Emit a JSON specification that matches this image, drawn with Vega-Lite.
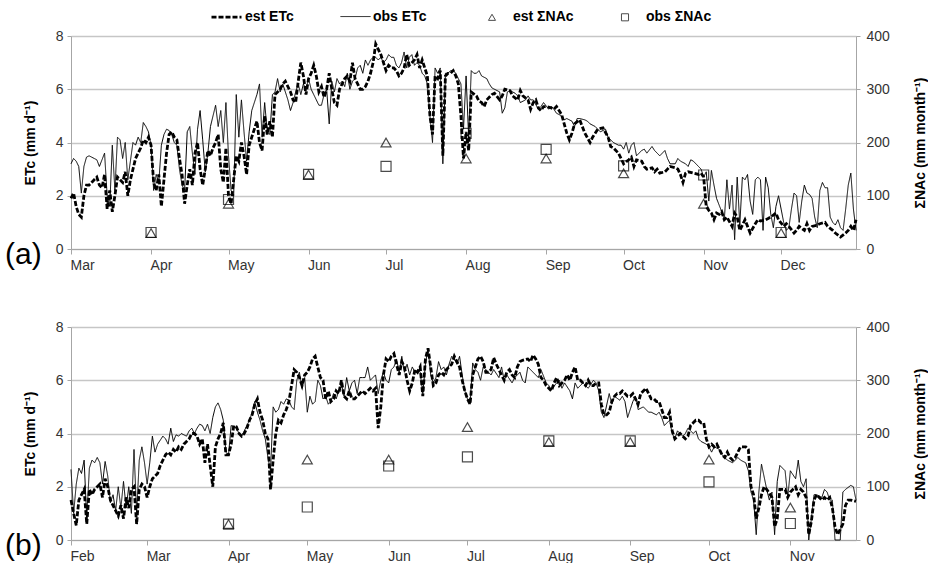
{
"$schema":"https://vega.github.io/schema/vega-lite/v6.json",
"background":"white",
"padding":{"left":5,"top":0,"right":0,"bottom":0},
"config":{"font":"Liberation Sans","view":{"stroke":null},
"axis":{"labelFont":"Liberation Sans","titleFont":"Liberation Sans","labelFontSize":14,"labelColor":"#333333","titleFontSize":14,"titleFontWeight":"bold","titleColor":"#000000","domainColor":"#a6a6a6","tickColor":"#a6a6a6","gridColor":"#c6c6c6","gridWidth":1.5},
"legend":{"labelFont":"Liberation Sans"}},
"datasets":{
"a":[
{"s":"o","t":"2011-03-01","v":3.2},{"s":"o","t":"2011-03-02","v":3.4},{"s":"o","t":"2011-03-03","v":3.3},{"s":"o","t":"2011-03-04","v":3.1},{"s":"o","t":"2011-03-05","v":2.1},{"s":"o","t":"2011-03-06","v":3.1},{"s":"o","t":"2011-03-07","v":3.45},{"s":"o","t":"2011-03-08","v":3.5},{"s":"o","t":"2011-03-09","v":3.45},{"s":"o","t":"2011-03-10","v":3.4},{"s":"o","t":"2011-03-11","v":3.35},{"s":"o","t":"2011-03-12","v":3.1},{"s":"o","t":"2011-03-13","v":3.35},{"s":"o","t":"2011-03-14","v":3.6},{"s":"o","t":"2011-03-15","v":2.0},{"s":"o","t":"2011-03-16","v":1.6},{"s":"o","t":"2011-03-17","v":3.9},{"s":"o","t":"2011-03-18","v":2.2},{"s":"o","t":"2011-03-19","v":4.2},{"s":"o","t":"2011-03-20","v":4.1},{"s":"o","t":"2011-03-21","v":3.4},{"s":"o","t":"2011-03-22","v":4.0},{"s":"o","t":"2011-03-23","v":2.6},{"s":"o","t":"2011-03-24","v":3.3},{"s":"o","t":"2011-03-25","v":4.0},{"s":"o","t":"2011-03-26","v":3.9},{"s":"o","t":"2011-03-27","v":4.2},{"s":"o","t":"2011-03-28","v":4.0},{"s":"o","t":"2011-03-29","v":4.75},{"s":"o","t":"2011-03-30","v":4.6},{"s":"o","t":"2011-03-31","v":4.4},
{"s":"o","t":"2011-04-01","v":3.9},{"s":"o","t":"2011-04-02","v":2.2},{"s":"o","t":"2011-04-03","v":2.8},{"s":"o","t":"2011-04-04","v":2.5},{"s":"o","t":"2011-04-05","v":3.9},{"s":"o","t":"2011-04-06","v":4.3},{"s":"o","t":"2011-04-07","v":4.5},{"s":"o","t":"2011-04-08","v":4.45},{"s":"o","t":"2011-04-09","v":4.3},{"s":"o","t":"2011-04-10","v":4.0},{"s":"o","t":"2011-04-11","v":3.9},{"s":"o","t":"2011-04-12","v":3.0},{"s":"o","t":"2011-04-13","v":2.4},{"s":"o","t":"2011-04-14","v":2.2},{"s":"o","t":"2011-04-15","v":4.4},{"s":"o","t":"2011-04-16","v":4.6},{"s":"o","t":"2011-04-17","v":3.6},{"s":"o","t":"2011-04-18","v":2.8},{"s":"o","t":"2011-04-19","v":4.5},{"s":"o","t":"2011-04-20","v":5.2},{"s":"o","t":"2011-04-21","v":4.1},{"s":"o","t":"2011-04-22","v":2.9},{"s":"o","t":"2011-04-23","v":3.6},{"s":"o","t":"2011-04-24","v":4.6},{"s":"o","t":"2011-04-25","v":5.0},{"s":"o","t":"2011-04-26","v":5.4},{"s":"o","t":"2011-04-27","v":4.6},{"s":"o","t":"2011-04-28","v":5.2},{"s":"o","t":"2011-04-29","v":4.0},{"s":"o","t":"2011-04-30","v":5.5},
{"s":"o","t":"2011-05-01","v":3.5},{"s":"o","t":"2011-05-02","v":2.2},{"s":"o","t":"2011-05-03","v":2.0},{"s":"o","t":"2011-05-04","v":5.8},{"s":"o","t":"2011-05-05","v":4.2},{"s":"o","t":"2011-05-06","v":5.6},{"s":"o","t":"2011-05-07","v":4.4},{"s":"o","t":"2011-05-08","v":3.3},{"s":"o","t":"2011-05-09","v":4.4},{"s":"o","t":"2011-05-10","v":5.2},{"s":"o","t":"2011-05-11","v":5.5},{"s":"o","t":"2011-05-12","v":5.8},{"s":"o","t":"2011-05-13","v":6.2},{"s":"o","t":"2011-05-14","v":4.2},{"s":"o","t":"2011-05-15","v":5.5},{"s":"o","t":"2011-05-16","v":4.4},{"s":"o","t":"2011-05-17","v":4.3},{"s":"o","t":"2011-05-18","v":5.8},{"s":"o","t":"2011-05-19","v":5.9},{"s":"o","t":"2011-05-20","v":6.4},{"s":"o","t":"2011-05-21","v":5.9},{"s":"o","t":"2011-05-22","v":6.2},{"s":"o","t":"2011-05-23","v":5.9},{"s":"o","t":"2011-05-24","v":5.6},{"s":"o","t":"2011-05-25","v":5.2},{"s":"o","t":"2011-05-26","v":5.5},{"s":"o","t":"2011-05-27","v":5.9},{"s":"o","t":"2011-05-28","v":6.2},{"s":"o","t":"2011-05-29","v":5.8},{"s":"o","t":"2011-05-30","v":6.2},{"s":"o","t":"2011-05-31","v":6.0},
{"s":"o","t":"2011-06-01","v":6.4},{"s":"o","t":"2011-06-02","v":6.0},{"s":"o","t":"2011-06-03","v":5.8},{"s":"o","t":"2011-06-04","v":5.6},{"s":"o","t":"2011-06-05","v":5.4},{"s":"o","t":"2011-06-06","v":5.4},{"s":"o","t":"2011-06-07","v":5.8},{"s":"o","t":"2011-06-08","v":6.0},{"s":"o","t":"2011-06-09","v":4.7},{"s":"o","t":"2011-06-10","v":6.3},{"s":"o","t":"2011-06-11","v":5.9},{"s":"o","t":"2011-06-12","v":6.4},{"s":"o","t":"2011-06-13","v":6.2},{"s":"o","t":"2011-06-14","v":6.3},{"s":"o","t":"2011-06-15","v":6.1},{"s":"o","t":"2011-06-16","v":6.6},{"s":"o","t":"2011-06-17","v":6.0},{"s":"o","t":"2011-06-18","v":6.3},{"s":"o","t":"2011-06-19","v":6.4},{"s":"o","t":"2011-06-20","v":6.8},{"s":"o","t":"2011-06-21","v":6.9},{"s":"o","t":"2011-06-22","v":6.6},{"s":"o","t":"2011-06-23","v":7.1},{"s":"o","t":"2011-06-24","v":6.9},{"s":"o","t":"2011-06-25","v":7.1},{"s":"o","t":"2011-06-26","v":7.2},{"s":"o","t":"2011-06-27","v":7.2},{"s":"o","t":"2011-06-28","v":7.1},{"s":"o","t":"2011-06-29","v":7.2},{"s":"o","t":"2011-06-30","v":7.0},
{"s":"o","t":"2011-07-01","v":7.1},{"s":"o","t":"2011-07-02","v":7.3},{"s":"o","t":"2011-07-03","v":7.2},{"s":"o","t":"2011-07-04","v":7.2},{"s":"o","t":"2011-07-05","v":6.9},{"s":"o","t":"2011-07-06","v":6.8},{"s":"o","t":"2011-07-07","v":7.0},{"s":"o","t":"2011-07-08","v":7.4},{"s":"o","t":"2011-07-09","v":6.8},{"s":"o","t":"2011-07-10","v":7.2},{"s":"o","t":"2011-07-11","v":7.3},{"s":"o","t":"2011-07-12","v":6.9},{"s":"o","t":"2011-07-13","v":7.0},{"s":"o","t":"2011-07-14","v":6.9},{"s":"o","t":"2011-07-15","v":6.6},{"s":"o","t":"2011-07-16","v":6.5},{"s":"o","t":"2011-07-17","v":6.2},{"s":"o","t":"2011-07-18","v":5.0},{"s":"o","t":"2011-07-19","v":4.0},{"s":"o","t":"2011-07-20","v":6.8},{"s":"o","t":"2011-07-21","v":6.6},{"s":"o","t":"2011-07-22","v":6.8},{"s":"o","t":"2011-07-23","v":3.2},{"s":"o","t":"2011-07-24","v":6.6},{"s":"o","t":"2011-07-25","v":6.6},{"s":"o","t":"2011-07-26","v":6.7},{"s":"o","t":"2011-07-27","v":6.7},{"s":"o","t":"2011-07-28","v":6.6},{"s":"o","t":"2011-07-29","v":6.4},{"s":"o","t":"2011-07-30","v":6.2},{"s":"o","t":"2011-07-31","v":4.5},
{"s":"o","t":"2011-08-01","v":6.5},{"s":"o","t":"2011-08-02","v":4.2},{"s":"o","t":"2011-08-03","v":6.7},{"s":"o","t":"2011-08-04","v":6.6},{"s":"o","t":"2011-08-05","v":6.6},{"s":"o","t":"2011-08-06","v":6.7},{"s":"o","t":"2011-08-07","v":6.5},{"s":"o","t":"2011-08-09","v":6.4},{"s":"o","t":"2011-08-10","v":6.2},{"s":"o","t":"2011-08-11","v":6.05},{"s":"o","t":"2011-08-13","v":5.95},{"s":"o","t":"2011-08-14","v":5.9},{"s":"o","t":"2011-08-15","v":5.1},{"s":"o","t":"2011-08-16","v":5.3},{"s":"o","t":"2011-08-17","v":5.9},{"s":"o","t":"2011-08-18","v":5.95},{"s":"o","t":"2011-08-20","v":5.85},{"s":"o","t":"2011-08-21","v":5.75},{"s":"o","t":"2011-08-22","v":5.5},{"s":"o","t":"2011-08-24","v":5.6},{"s":"o","t":"2011-08-25","v":5.75},{"s":"o","t":"2011-08-26","v":5.6},{"s":"o","t":"2011-08-27","v":5.6},{"s":"o","t":"2011-08-29","v":5.25},{"s":"o","t":"2011-08-30","v":5.35},{"s":"o","t":"2011-08-31","v":5.5},
{"s":"o","t":"2011-09-02","v":5.25},{"s":"o","t":"2011-09-03","v":5.35},{"s":"o","t":"2011-09-04","v":5.25},{"s":"o","t":"2011-09-05","v":5.1},{"s":"o","t":"2011-09-07","v":5.0},{"s":"o","t":"2011-09-08","v":4.85},{"s":"o","t":"2011-09-09","v":4.9},{"s":"o","t":"2011-09-11","v":4.8},{"s":"o","t":"2011-09-12","v":4.6},{"s":"o","t":"2011-09-13","v":4.9},{"s":"o","t":"2011-09-14","v":4.9},{"s":"o","t":"2011-09-16","v":4.85},{"s":"o","t":"2011-09-17","v":4.8},{"s":"o","t":"2011-09-18","v":4.7},{"s":"o","t":"2011-09-20","v":4.6},{"s":"o","t":"2011-09-21","v":4.5},{"s":"o","t":"2011-09-22","v":4.4},{"s":"o","t":"2011-09-24","v":4.5},{"s":"o","t":"2011-09-25","v":4.2},{"s":"o","t":"2011-09-26","v":4.1},{"s":"o","t":"2011-09-27","v":4.0},{"s":"o","t":"2011-09-29","v":3.9},{"s":"o","t":"2011-09-30","v":3.9},
{"s":"o","t":"2011-10-01","v":3.75},{"s":"o","t":"2011-10-02","v":4.0},{"s":"o","t":"2011-10-03","v":3.6},{"s":"o","t":"2011-10-04","v":3.9},{"s":"o","t":"2011-10-05","v":4.0},{"s":"o","t":"2011-10-06","v":3.5},{"s":"o","t":"2011-10-08","v":3.7},{"s":"o","t":"2011-10-09","v":3.75},{"s":"o","t":"2011-10-10","v":3.6},{"s":"o","t":"2011-10-12","v":3.85},{"s":"o","t":"2011-10-13","v":3.7},{"s":"o","t":"2011-10-14","v":3.6},{"s":"o","t":"2011-10-15","v":3.5},{"s":"o","t":"2011-10-17","v":3.7},{"s":"o","t":"2011-10-18","v":3.4},{"s":"o","t":"2011-10-19","v":3.2},{"s":"o","t":"2011-10-21","v":3.2},{"s":"o","t":"2011-10-22","v":3.4},{"s":"o","t":"2011-10-23","v":3.3},{"s":"o","t":"2011-10-25","v":3.2},{"s":"o","t":"2011-10-26","v":3.1},{"s":"o","t":"2011-10-27","v":3.35},{"s":"o","t":"2011-10-28","v":3.3},{"s":"o","t":"2011-10-30","v":3.1},{"s":"o","t":"2011-10-31","v":3.0},
{"s":"o","t":"2011-11-01","v":2.7},{"s":"o","t":"2011-11-02","v":2.9},{"s":"o","t":"2011-11-03","v":1.8},{"s":"o","t":"2011-11-04","v":2.95},{"s":"o","t":"2011-11-05","v":2.4},{"s":"o","t":"2011-11-06","v":1.9},{"s":"o","t":"2011-11-08","v":1.4},{"s":"o","t":"2011-11-09","v":1.1},{"s":"o","t":"2011-11-10","v":2.6},{"s":"o","t":"2011-11-11","v":1.5},{"s":"o","t":"2011-11-12","v":2.4},{"s":"o","t":"2011-11-13","v":0.35},{"s":"o","t":"2011-11-14","v":2.7},{"s":"o","t":"2011-11-15","v":0.9},{"s":"o","t":"2011-11-16","v":2.7},{"s":"o","t":"2011-11-17","v":2.6},{"s":"o","t":"2011-11-18","v":2.8},{"s":"o","t":"2011-11-19","v":1.8},{"s":"o","t":"2011-11-20","v":1.3},{"s":"o","t":"2011-11-21","v":2.6},{"s":"o","t":"2011-11-22","v":2.7},{"s":"o","t":"2011-11-23","v":2.6},{"s":"o","t":"2011-11-24","v":0.7},{"s":"o","t":"2011-11-25","v":2.7},{"s":"o","t":"2011-11-26","v":2.3},{"s":"o","t":"2011-11-27","v":1.3},{"s":"o","t":"2011-11-28","v":0.8},{"s":"o","t":"2011-11-29","v":1.6},{"s":"o","t":"2011-11-30","v":2.0},
{"s":"o","t":"2011-12-01","v":1.5},{"s":"o","t":"2011-12-02","v":1.0},{"s":"o","t":"2011-12-03","v":0.7},{"s":"o","t":"2011-12-04","v":0.8},{"s":"o","t":"2011-12-05","v":1.5},{"s":"o","t":"2011-12-06","v":2.1},{"s":"o","t":"2011-12-07","v":2.0},{"s":"o","t":"2011-12-08","v":1.0},{"s":"o","t":"2011-12-09","v":1.8},{"s":"o","t":"2011-12-10","v":2.4},{"s":"o","t":"2011-12-11","v":2.1},{"s":"o","t":"2011-12-12","v":2.05},{"s":"o","t":"2011-12-13","v":1.9},{"s":"o","t":"2011-12-14","v":1.2},{"s":"o","t":"2011-12-15","v":0.8},{"s":"o","t":"2011-12-16","v":2.2},{"s":"o","t":"2011-12-17","v":2.5},{"s":"o","t":"2011-12-18","v":2.3},{"s":"o","t":"2011-12-19","v":2.3},{"s":"o","t":"2011-12-20","v":1.2},{"s":"o","t":"2011-12-21","v":1.0},{"s":"o","t":"2011-12-22","v":0.9},{"s":"o","t":"2011-12-23","v":1.1},{"s":"o","t":"2011-12-24","v":0.8},{"s":"o","t":"2011-12-25","v":0.7},{"s":"o","t":"2011-12-26","v":1.5},{"s":"o","t":"2011-12-27","v":2.4},{"s":"o","t":"2011-12-28","v":2.85},{"s":"o","t":"2011-12-29","v":1.5},{"s":"o","t":"2011-12-30","v":0.7},
{"s":"e","t":"2011-03-01","v":1.9},{"s":"e","t":"2011-03-02","v":2.1},{"s":"e","t":"2011-03-03","v":1.6},{"s":"e","t":"2011-03-04","v":1.3},{"s":"e","t":"2011-03-05","v":1.2},{"s":"e","t":"2011-03-06","v":2.0},{"s":"e","t":"2011-03-07","v":2.4},{"s":"e","t":"2011-03-08","v":2.4},{"s":"e","t":"2011-03-09","v":2.5},{"s":"e","t":"2011-03-10","v":2.6},{"s":"e","t":"2011-03-11","v":2.7},{"s":"e","t":"2011-03-12","v":2.4},{"s":"e","t":"2011-03-13","v":2.3},{"s":"e","t":"2011-03-14","v":2.8},{"s":"e","t":"2011-03-15","v":1.5},{"s":"e","t":"2011-03-16","v":2.2},{"s":"e","t":"2011-03-17","v":1.4},{"s":"e","t":"2011-03-18","v":2.0},{"s":"e","t":"2011-03-19","v":2.7},{"s":"e","t":"2011-03-20","v":2.6},{"s":"e","t":"2011-03-21","v":2.5},{"s":"e","t":"2011-03-22","v":2.9},{"s":"e","t":"2011-03-23","v":2.0},{"s":"e","t":"2011-03-24","v":2.6},{"s":"e","t":"2011-03-25","v":3.0},{"s":"e","t":"2011-03-26","v":3.4},{"s":"e","t":"2011-03-27","v":3.6},{"s":"e","t":"2011-03-28","v":3.8},{"s":"e","t":"2011-03-29","v":4.1},{"s":"e","t":"2011-03-30","v":4.0},{"s":"e","t":"2011-03-31","v":4.2},
{"s":"e","t":"2011-04-01","v":3.9},{"s":"e","t":"2011-04-02","v":2.5},{"s":"e","t":"2011-04-03","v":2.2},{"s":"e","t":"2011-04-04","v":2.8},{"s":"e","t":"2011-04-05","v":1.6},{"s":"e","t":"2011-04-06","v":2.6},{"s":"e","t":"2011-04-07","v":3.6},{"s":"e","t":"2011-04-08","v":4.3},{"s":"e","t":"2011-04-09","v":4.4},{"s":"e","t":"2011-04-10","v":4.2},{"s":"e","t":"2011-04-11","v":4.1},{"s":"e","t":"2011-04-12","v":3.4},{"s":"e","t":"2011-04-13","v":2.8},{"s":"e","t":"2011-04-14","v":1.7},{"s":"e","t":"2011-04-15","v":2.4},{"s":"e","t":"2011-04-16","v":3.0},{"s":"e","t":"2011-04-17","v":2.4},{"s":"e","t":"2011-04-18","v":3.6},{"s":"e","t":"2011-04-19","v":4.0},{"s":"e","t":"2011-04-20","v":3.0},{"s":"e","t":"2011-04-21","v":2.4},{"s":"e","t":"2011-04-22","v":3.0},{"s":"e","t":"2011-04-23","v":3.7},{"s":"e","t":"2011-04-24","v":3.5},{"s":"e","t":"2011-04-25","v":3.8},{"s":"e","t":"2011-04-26","v":4.0},{"s":"e","t":"2011-04-27","v":4.3},{"s":"e","t":"2011-04-28","v":3.0},{"s":"e","t":"2011-04-29","v":2.5},{"s":"e","t":"2011-04-30","v":3.8},
{"s":"e","t":"2011-05-01","v":2.0},{"s":"e","t":"2011-05-02","v":1.7},{"s":"e","t":"2011-05-03","v":2.6},{"s":"e","t":"2011-05-04","v":3.5},{"s":"e","t":"2011-05-05","v":3.3},{"s":"e","t":"2011-05-06","v":4.0},{"s":"e","t":"2011-05-07","v":3.5},{"s":"e","t":"2011-05-08","v":2.8},{"s":"e","t":"2011-05-09","v":3.9},{"s":"e","t":"2011-05-10","v":4.2},{"s":"e","t":"2011-05-11","v":4.5},{"s":"e","t":"2011-05-12","v":4.8},{"s":"e","t":"2011-05-13","v":4.0},{"s":"e","t":"2011-05-14","v":3.7},{"s":"e","t":"2011-05-15","v":5.0},{"s":"e","t":"2011-05-16","v":4.3},{"s":"e","t":"2011-05-17","v":4.8},{"s":"e","t":"2011-05-18","v":4.2},{"s":"e","t":"2011-05-19","v":5.8},{"s":"e","t":"2011-05-20","v":5.9},{"s":"e","t":"2011-05-21","v":6.0},{"s":"e","t":"2011-05-22","v":6.2},{"s":"e","t":"2011-05-23","v":6.3},{"s":"e","t":"2011-05-24","v":6.1},{"s":"e","t":"2011-05-25","v":5.9},{"s":"e","t":"2011-05-26","v":5.6},{"s":"e","t":"2011-05-27","v":5.5},{"s":"e","t":"2011-05-28","v":6.3},{"s":"e","t":"2011-05-29","v":7.0},{"s":"e","t":"2011-05-30","v":6.5},{"s":"e","t":"2011-05-31","v":5.8},
{"s":"e","t":"2011-06-01","v":6.4},{"s":"e","t":"2011-06-02","v":6.6},{"s":"e","t":"2011-06-03","v":6.9},{"s":"e","t":"2011-06-04","v":6.5},{"s":"e","t":"2011-06-05","v":5.9},{"s":"e","t":"2011-06-06","v":6.1},{"s":"e","t":"2011-06-07","v":5.7},{"s":"e","t":"2011-06-08","v":6.0},{"s":"e","t":"2011-06-09","v":6.6},{"s":"e","t":"2011-06-10","v":6.0},{"s":"e","t":"2011-06-11","v":5.5},{"s":"e","t":"2011-06-12","v":5.4},{"s":"e","t":"2011-06-13","v":6.0},{"s":"e","t":"2011-06-14","v":6.2},{"s":"e","t":"2011-06-15","v":6.4},{"s":"e","t":"2011-06-16","v":6.5},{"s":"e","t":"2011-06-17","v":6.3},{"s":"e","t":"2011-06-18","v":7.0},{"s":"e","t":"2011-06-19","v":6.4},{"s":"e","t":"2011-06-20","v":6.2},{"s":"e","t":"2011-06-21","v":6.0},{"s":"e","t":"2011-06-22","v":6.0},{"s":"e","t":"2011-06-23","v":6.1},{"s":"e","t":"2011-06-24","v":6.3},{"s":"e","t":"2011-06-25","v":6.6},{"s":"e","t":"2011-06-26","v":7.0},{"s":"e","t":"2011-06-27","v":7.7},{"s":"e","t":"2011-06-28","v":7.5},{"s":"e","t":"2011-06-29","v":7.3},{"s":"e","t":"2011-06-30","v":7.0},
{"s":"e","t":"2011-07-01","v":6.7},{"s":"e","t":"2011-07-02","v":6.9},{"s":"e","t":"2011-07-03","v":6.8},{"s":"e","t":"2011-07-04","v":6.8},{"s":"e","t":"2011-07-05","v":6.7},{"s":"e","t":"2011-07-06","v":6.5},{"s":"e","t":"2011-07-07","v":6.6},{"s":"e","t":"2011-07-08","v":6.8},{"s":"e","t":"2011-07-09","v":7.3},{"s":"e","t":"2011-07-10","v":6.9},{"s":"e","t":"2011-07-11","v":7.0},{"s":"e","t":"2011-07-12","v":7.1},{"s":"e","t":"2011-07-13","v":7.3},{"s":"e","t":"2011-07-14","v":6.8},{"s":"e","t":"2011-07-15","v":7.1},{"s":"e","t":"2011-07-16","v":6.8},{"s":"e","t":"2011-07-17","v":6.5},{"s":"e","t":"2011-07-18","v":5.0},{"s":"e","t":"2011-07-19","v":4.3},{"s":"e","t":"2011-07-20","v":6.5},{"s":"e","t":"2011-07-21","v":6.4},{"s":"e","t":"2011-07-22","v":6.7},{"s":"e","t":"2011-07-23","v":3.5},{"s":"e","t":"2011-07-24","v":6.5},{"s":"e","t":"2011-07-25","v":6.6},{"s":"e","t":"2011-07-26","v":6.6},{"s":"e","t":"2011-07-27","v":6.7},{"s":"e","t":"2011-07-28","v":6.5},{"s":"e","t":"2011-07-29","v":6.2},{"s":"e","t":"2011-07-30","v":5.0},{"s":"e","t":"2011-07-31","v":3.4},
{"s":"e","t":"2011-08-01","v":4.4},{"s":"e","t":"2011-08-02","v":3.7},{"s":"e","t":"2011-08-03","v":5.9},{"s":"e","t":"2011-08-05","v":5.75},{"s":"e","t":"2011-08-06","v":5.55},{"s":"e","t":"2011-08-07","v":5.5},{"s":"e","t":"2011-08-08","v":5.35},{"s":"e","t":"2011-08-09","v":5.6},{"s":"e","t":"2011-08-11","v":5.8},{"s":"e","t":"2011-08-12","v":5.85},{"s":"e","t":"2011-08-14","v":5.6},{"s":"e","t":"2011-08-15","v":5.75},{"s":"e","t":"2011-08-16","v":6.0},{"s":"e","t":"2011-08-18","v":5.95},{"s":"e","t":"2011-08-19","v":5.75},{"s":"e","t":"2011-08-21","v":5.6},{"s":"e","t":"2011-08-22","v":5.95},{"s":"e","t":"2011-08-23","v":5.75},{"s":"e","t":"2011-08-25","v":5.6},{"s":"e","t":"2011-08-26","v":5.25},{"s":"e","t":"2011-08-27","v":5.5},{"s":"e","t":"2011-08-28","v":5.6},{"s":"e","t":"2011-08-29","v":5.3},{"s":"e","t":"2011-08-30","v":5.2},{"s":"e","t":"2011-08-31","v":5.35},
{"s":"e","t":"2011-09-01","v":5.35},{"s":"e","t":"2011-09-03","v":5.3},{"s":"e","t":"2011-09-04","v":5.25},{"s":"e","t":"2011-09-05","v":5.35},{"s":"e","t":"2011-09-07","v":5.05},{"s":"e","t":"2011-09-09","v":4.35},{"s":"e","t":"2011-09-10","v":4.1},{"s":"e","t":"2011-09-11","v":4.35},{"s":"e","t":"2011-09-12","v":4.7},{"s":"e","t":"2011-09-14","v":4.85},{"s":"e","t":"2011-09-15","v":4.6},{"s":"e","t":"2011-09-16","v":4.35},{"s":"e","t":"2011-09-18","v":4.0},{"s":"e","t":"2011-09-19","v":4.2},{"s":"e","t":"2011-09-20","v":4.35},{"s":"e","t":"2011-09-21","v":4.5},{"s":"e","t":"2011-09-23","v":4.55},{"s":"e","t":"2011-09-25","v":4.2},{"s":"e","t":"2011-09-26","v":3.85},{"s":"e","t":"2011-09-27","v":3.8},{"s":"e","t":"2011-09-29","v":3.6},{"s":"e","t":"2011-09-30","v":3.4},
{"s":"e","t":"2011-10-01","v":3.2},{"s":"e","t":"2011-10-03","v":3.35},{"s":"e","t":"2011-10-04","v":3.45},{"s":"e","t":"2011-10-05","v":3.1},{"s":"e","t":"2011-10-06","v":3.35},{"s":"e","t":"2011-10-08","v":3.3},{"s":"e","t":"2011-10-09","v":3.1},{"s":"e","t":"2011-10-10","v":3.0},{"s":"e","t":"2011-10-12","v":3.05},{"s":"e","t":"2011-10-13","v":2.9},{"s":"e","t":"2011-10-14","v":3.0},{"s":"e","t":"2011-10-15","v":2.85},{"s":"e","t":"2011-10-17","v":2.9},{"s":"e","t":"2011-10-18","v":3.0},{"s":"e","t":"2011-10-19","v":3.1},{"s":"e","t":"2011-10-21","v":3.05},{"s":"e","t":"2011-10-22","v":3.0},{"s":"e","t":"2011-10-23","v":2.8},{"s":"e","t":"2011-10-24","v":2.5},{"s":"e","t":"2011-10-25","v":2.85},{"s":"e","t":"2011-10-26","v":2.9},{"s":"e","t":"2011-10-28","v":2.85},{"s":"e","t":"2011-10-30","v":2.8},{"s":"e","t":"2011-10-31","v":2.85},
{"s":"e","t":"2011-11-01","v":2.7},{"s":"e","t":"2011-11-02","v":1.6},{"s":"e","t":"2011-11-03","v":1.45},{"s":"e","t":"2011-11-04","v":1.35},{"s":"e","t":"2011-11-05","v":1.1},{"s":"e","t":"2011-11-06","v":1.35},{"s":"e","t":"2011-11-07","v":1.3},{"s":"e","t":"2011-11-08","v":1.4},{"s":"e","t":"2011-11-09","v":1.1},{"s":"e","t":"2011-11-10","v":1.2},{"s":"e","t":"2011-11-12","v":0.85},{"s":"e","t":"2011-11-13","v":1.35},{"s":"e","t":"2011-11-14","v":1.2},{"s":"e","t":"2011-11-15","v":0.7},{"s":"e","t":"2011-11-17","v":1.1},{"s":"e","t":"2011-11-18","v":0.85},{"s":"e","t":"2011-11-19","v":0.6},{"s":"e","t":"2011-11-21","v":0.95},{"s":"e","t":"2011-11-22","v":1.1},{"s":"e","t":"2011-11-23","v":1.05},{"s":"e","t":"2011-11-25","v":1.1},{"s":"e","t":"2011-11-26","v":1.15},{"s":"e","t":"2011-11-27","v":1.2},{"s":"e","t":"2011-11-29","v":1.35},{"s":"e","t":"2011-11-30","v":1.1},
{"s":"e","t":"2011-12-02","v":0.85},{"s":"e","t":"2011-12-03","v":0.95},{"s":"e","t":"2011-12-04","v":0.85},{"s":"e","t":"2011-12-06","v":0.6},{"s":"e","t":"2011-12-07","v":0.7},{"s":"e","t":"2011-12-08","v":0.85},{"s":"e","t":"2011-12-10","v":0.7},{"s":"e","t":"2011-12-11","v":0.95},{"s":"e","t":"2011-12-12","v":0.7},{"s":"e","t":"2011-12-13","v":0.85},{"s":"e","t":"2011-12-15","v":0.9},{"s":"e","t":"2011-12-16","v":0.95},{"s":"e","t":"2011-12-18","v":1.0},{"s":"e","t":"2011-12-19","v":0.85},{"s":"e","t":"2011-12-21","v":0.7},{"s":"e","t":"2011-12-22","v":0.6},{"s":"e","t":"2011-12-24","v":0.45},{"s":"e","t":"2011-12-26","v":0.6},{"s":"e","t":"2011-12-27","v":0.7},{"s":"e","t":"2011-12-28","v":0.85},{"s":"e","t":"2011-12-29","v":0.7},{"s":"e","t":"2011-12-30","v":1.1}
],
"ap":[
{"p":"est","t":"2011-04-01","v":30},{"p":"est","t":"2011-05-01","v":85},{"p":"est","t":"2011-06-01","v":140},{"p":"est","t":"2011-07-01","v":200},{"p":"est","t":"2011-08-01","v":170},{"p":"est","t":"2011-09-01","v":170},{"p":"est","t":"2011-10-01","v":142},{"p":"est","t":"2011-11-01","v":85},{"p":"est","t":"2011-12-01","v":30},
{"p":"obs","t":"2011-04-01","v":31},{"p":"obs","t":"2011-05-01","v":93},{"p":"obs","t":"2011-06-01","v":140},{"p":"obs","t":"2011-07-01","v":155},{"p":"obs","t":"2011-08-01","v":217},{"p":"obs","t":"2011-09-01","v":187},{"p":"obs","t":"2011-10-01","v":156},{"p":"obs","t":"2011-11-01","v":139},{"p":"obs","t":"2011-12-01","v":31}
],
"b":[
{"s":"o","t":"2012-02-01","v":2.65},{"s":"o","t":"2012-02-02","v":1.0},{"s":"o","t":"2012-02-03","v":2.1},{"s":"o","t":"2012-02-04","v":2.7},{"s":"o","t":"2012-02-05","v":2.5},{"s":"o","t":"2012-02-06","v":3.0},{"s":"o","t":"2012-02-07","v":0.8},{"s":"o","t":"2012-02-08","v":2.7},{"s":"o","t":"2012-02-09","v":3.0},{"s":"o","t":"2012-02-10","v":2.9},{"s":"o","t":"2012-02-11","v":3.1},{"s":"o","t":"2012-02-12","v":2.9},{"s":"o","t":"2012-02-13","v":2.1},{"s":"o","t":"2012-02-14","v":2.95},{"s":"o","t":"2012-02-15","v":2.4},{"s":"o","t":"2012-02-16","v":1.4},{"s":"o","t":"2012-02-17","v":1.7},{"s":"o","t":"2012-02-18","v":1.1},{"s":"o","t":"2012-02-19","v":2.0},{"s":"o","t":"2012-02-20","v":1.2},{"s":"o","t":"2012-02-21","v":2.2},{"s":"o","t":"2012-02-22","v":1.2},{"s":"o","t":"2012-02-23","v":2.0},{"s":"o","t":"2012-02-24","v":1.0},{"s":"o","t":"2012-02-25","v":3.4},{"s":"o","t":"2012-02-26","v":1.0},{"s":"o","t":"2012-02-27","v":3.0},{"s":"o","t":"2012-02-28","v":3.5},{"s":"o","t":"2012-02-29","v":2.9},
{"s":"o","t":"2012-03-01","v":2.1},{"s":"o","t":"2012-03-02","v":2.9},{"s":"o","t":"2012-03-03","v":3.9},{"s":"o","t":"2012-03-04","v":3.3},{"s":"o","t":"2012-03-05","v":3.6},{"s":"o","t":"2012-03-06","v":3.75},{"s":"o","t":"2012-03-07","v":3.9},{"s":"o","t":"2012-03-08","v":3.8},{"s":"o","t":"2012-03-09","v":3.6},{"s":"o","t":"2012-03-10","v":4.2},{"s":"o","t":"2012-03-11","v":3.7},{"s":"o","t":"2012-03-12","v":3.95},{"s":"o","t":"2012-03-13","v":3.9},{"s":"o","t":"2012-03-14","v":4.0},{"s":"o","t":"2012-03-15","v":3.95},{"s":"o","t":"2012-03-16","v":3.9},{"s":"o","t":"2012-03-17","v":4.1},{"s":"o","t":"2012-03-18","v":4.2},{"s":"o","t":"2012-03-19","v":4.0},{"s":"o","t":"2012-03-20","v":4.2},{"s":"o","t":"2012-03-21","v":4.35},{"s":"o","t":"2012-03-22","v":4.3},{"s":"o","t":"2012-03-23","v":4.1},{"s":"o","t":"2012-03-24","v":4.35},{"s":"o","t":"2012-03-25","v":4.0},{"s":"o","t":"2012-03-26","v":4.6},{"s":"o","t":"2012-03-27","v":5.0},{"s":"o","t":"2012-03-28","v":5.15},{"s":"o","t":"2012-03-29","v":4.9},{"s":"o","t":"2012-03-30","v":4.5},{"s":"o","t":"2012-03-31","v":3.3},
{"s":"o","t":"2012-04-01","v":3.2},{"s":"o","t":"2012-04-02","v":4.3},{"s":"o","t":"2012-04-03","v":4.25},{"s":"o","t":"2012-04-04","v":4.2},{"s":"o","t":"2012-04-05","v":4.0},{"s":"o","t":"2012-04-06","v":3.9},{"s":"o","t":"2012-04-07","v":4.1},{"s":"o","t":"2012-04-08","v":4.3},{"s":"o","t":"2012-04-09","v":4.5},{"s":"o","t":"2012-04-10","v":4.8},{"s":"o","t":"2012-04-11","v":5.2},{"s":"o","t":"2012-04-12","v":4.8},{"s":"o","t":"2012-04-13","v":4.5},{"s":"o","t":"2012-04-14","v":4.1},{"s":"o","t":"2012-04-15","v":3.8},{"s":"o","t":"2012-04-16","v":3.1},{"s":"o","t":"2012-04-17","v":2.6},{"s":"o","t":"2012-04-18","v":5.0},{"s":"o","t":"2012-04-19","v":4.8},{"s":"o","t":"2012-04-20","v":4.9},{"s":"o","t":"2012-04-21","v":5.2},{"s":"o","t":"2012-04-22","v":5.1},{"s":"o","t":"2012-04-23","v":5.3},{"s":"o","t":"2012-04-24","v":5.25},{"s":"o","t":"2012-04-25","v":5.0},{"s":"o","t":"2012-04-26","v":4.9},{"s":"o","t":"2012-04-27","v":6.0},{"s":"o","t":"2012-04-28","v":6.3},{"s":"o","t":"2012-04-29","v":5.7},{"s":"o","t":"2012-04-30","v":6.1},
{"s":"o","t":"2012-05-01","v":4.8},{"s":"o","t":"2012-05-02","v":5.4},{"s":"o","t":"2012-05-03","v":5.1},{"s":"o","t":"2012-05-04","v":5.2},{"s":"o","t":"2012-05-05","v":6.0},{"s":"o","t":"2012-05-06","v":5.8},{"s":"o","t":"2012-05-07","v":5.3},{"s":"o","t":"2012-05-08","v":5.4},{"s":"o","t":"2012-05-09","v":5.1},{"s":"o","t":"2012-05-10","v":5.2},{"s":"o","t":"2012-05-11","v":5.5},{"s":"o","t":"2012-05-12","v":5.3},{"s":"o","t":"2012-05-13","v":5.6},{"s":"o","t":"2012-05-14","v":5.9},{"s":"o","t":"2012-05-15","v":5.4},{"s":"o","t":"2012-05-16","v":6.1},{"s":"o","t":"2012-05-17","v":5.6},{"s":"o","t":"2012-05-18","v":5.9},{"s":"o","t":"2012-05-19","v":6.0},{"s":"o","t":"2012-05-20","v":5.5},{"s":"o","t":"2012-05-21","v":6.1},{"s":"o","t":"2012-05-22","v":6.1},{"s":"o","t":"2012-05-23","v":6.1},{"s":"o","t":"2012-05-24","v":6.5},{"s":"o","t":"2012-05-25","v":6.0},{"s":"o","t":"2012-05-26","v":6.1},{"s":"o","t":"2012-05-27","v":6.2},{"s":"o","t":"2012-05-28","v":5.5},{"s":"o","t":"2012-05-29","v":6.0},{"s":"o","t":"2012-05-30","v":6.3},{"s":"o","t":"2012-05-31","v":6.0},
{"s":"o","t":"2012-06-01","v":5.9},{"s":"o","t":"2012-06-02","v":6.4},{"s":"o","t":"2012-06-03","v":6.5},{"s":"o","t":"2012-06-04","v":6.8},{"s":"o","t":"2012-06-05","v":6.3},{"s":"o","t":"2012-06-06","v":6.9},{"s":"o","t":"2012-06-07","v":6.3},{"s":"o","t":"2012-06-08","v":6.6},{"s":"o","t":"2012-06-09","v":6.2},{"s":"o","t":"2012-06-10","v":6.5},{"s":"o","t":"2012-06-11","v":6.3},{"s":"o","t":"2012-06-12","v":6.4},{"s":"o","t":"2012-06-13","v":6.3},{"s":"o","t":"2012-06-14","v":5.5},{"s":"o","t":"2012-06-15","v":6.6},{"s":"o","t":"2012-06-16","v":7.2},{"s":"o","t":"2012-06-17","v":6.2},{"s":"o","t":"2012-06-18","v":5.9},{"s":"o","t":"2012-06-19","v":6.1},{"s":"o","t":"2012-06-20","v":6.7},{"s":"o","t":"2012-06-21","v":6.4},{"s":"o","t":"2012-06-22","v":6.5},{"s":"o","t":"2012-06-23","v":6.2},{"s":"o","t":"2012-06-24","v":6.6},{"s":"o","t":"2012-06-25","v":6.9},{"s":"o","t":"2012-06-26","v":6.8},{"s":"o","t":"2012-06-27","v":6.6},{"s":"o","t":"2012-06-28","v":6.9},{"s":"o","t":"2012-06-29","v":6.2},{"s":"o","t":"2012-06-30","v":5.6},
{"s":"o","t":"2012-07-01","v":5.3},{"s":"o","t":"2012-07-02","v":5.1},{"s":"o","t":"2012-07-03","v":6.65},{"s":"o","t":"2012-07-04","v":6.4},{"s":"o","t":"2012-07-05","v":6.3},{"s":"o","t":"2012-07-06","v":6.0},{"s":"o","t":"2012-07-07","v":6.5},{"s":"o","t":"2012-07-09","v":6.3},{"s":"o","t":"2012-07-10","v":6.2},{"s":"o","t":"2012-07-11","v":6.4},{"s":"o","t":"2012-07-13","v":6.1},{"s":"o","t":"2012-07-14","v":6.5},{"s":"o","t":"2012-07-15","v":6.0},{"s":"o","t":"2012-07-16","v":6.2},{"s":"o","t":"2012-07-18","v":5.9},{"s":"o","t":"2012-07-19","v":6.1},{"s":"o","t":"2012-07-21","v":6.3},{"s":"o","t":"2012-07-22","v":6.0},{"s":"o","t":"2012-07-23","v":5.9},{"s":"o","t":"2012-07-24","v":6.5},{"s":"o","t":"2012-07-26","v":6.3},{"s":"o","t":"2012-07-27","v":6.2},{"s":"o","t":"2012-07-28","v":6.1},{"s":"o","t":"2012-07-29","v":6.4},{"s":"o","t":"2012-07-31","v":5.9},
{"s":"o","t":"2012-08-01","v":5.8},{"s":"o","t":"2012-08-02","v":5.65},{"s":"o","t":"2012-08-04","v":5.9},{"s":"o","t":"2012-08-05","v":6.0},{"s":"o","t":"2012-08-06","v":5.7},{"s":"o","t":"2012-08-07","v":5.9},{"s":"o","t":"2012-08-09","v":5.6},{"s":"o","t":"2012-08-10","v":5.3},{"s":"o","t":"2012-08-11","v":5.9},{"s":"o","t":"2012-08-12","v":5.7},{"s":"o","t":"2012-08-14","v":5.9},{"s":"o","t":"2012-08-15","v":5.8},{"s":"o","t":"2012-08-16","v":5.7},{"s":"o","t":"2012-08-18","v":6.0},{"s":"o","t":"2012-08-19","v":5.9},{"s":"o","t":"2012-08-20","v":5.6},{"s":"o","t":"2012-08-21","v":4.8},{"s":"o","t":"2012-08-22","v":4.6},{"s":"o","t":"2012-08-24","v":5.5},{"s":"o","t":"2012-08-25","v":5.1},{"s":"o","t":"2012-08-26","v":5.4},{"s":"o","t":"2012-08-28","v":5.25},{"s":"o","t":"2012-08-29","v":5.4},{"s":"o","t":"2012-08-30","v":5.2},{"s":"o","t":"2012-08-31","v":4.6},
{"s":"o","t":"2012-09-02","v":5.2},{"s":"o","t":"2012-09-03","v":5.4},{"s":"o","t":"2012-09-04","v":4.9},{"s":"o","t":"2012-09-06","v":5.0},{"s":"o","t":"2012-09-07","v":4.9},{"s":"o","t":"2012-09-08","v":4.8},{"s":"o","t":"2012-09-09","v":4.8},{"s":"o","t":"2012-09-11","v":4.7},{"s":"o","t":"2012-09-12","v":4.8},{"s":"o","t":"2012-09-13","v":4.6},{"s":"o","t":"2012-09-14","v":4.3},{"s":"o","t":"2012-09-16","v":4.5},{"s":"o","t":"2012-09-17","v":4.0},{"s":"o","t":"2012-09-18","v":3.8},{"s":"o","t":"2012-09-19","v":4.1},{"s":"o","t":"2012-09-21","v":3.9},{"s":"o","t":"2012-09-22","v":4.0},{"s":"o","t":"2012-09-23","v":4.2},{"s":"o","t":"2012-09-25","v":4.0},{"s":"o","t":"2012-09-26","v":4.1},{"s":"o","t":"2012-09-27","v":3.8},{"s":"o","t":"2012-09-28","v":3.7},{"s":"o","t":"2012-09-30","v":3.6},
{"s":"o","t":"2012-10-01","v":3.5},{"s":"o","t":"2012-10-02","v":3.3},{"s":"o","t":"2012-10-03","v":3.5},{"s":"o","t":"2012-10-05","v":3.4},{"s":"o","t":"2012-10-06","v":3.2},{"s":"o","t":"2012-10-07","v":3.1},{"s":"o","t":"2012-10-08","v":3.0},{"s":"o","t":"2012-10-10","v":2.9},{"s":"o","t":"2012-10-11","v":3.0},{"s":"o","t":"2012-10-12","v":3.1},{"s":"o","t":"2012-10-13","v":3.0},{"s":"o","t":"2012-10-15","v":2.9},{"s":"o","t":"2012-10-16","v":2.6},{"s":"o","t":"2012-10-17","v":1.8},{"s":"o","t":"2012-10-18","v":1.5},{"s":"o","t":"2012-10-19","v":0.2},{"s":"o","t":"2012-10-20","v":1.8},{"s":"o","t":"2012-10-21","v":2.85},{"s":"o","t":"2012-10-23","v":1.9},{"s":"o","t":"2012-10-24","v":1.5},{"s":"o","t":"2012-10-25","v":1.8},{"s":"o","t":"2012-10-26","v":0.2},{"s":"o","t":"2012-10-27","v":2.2},{"s":"o","t":"2012-10-28","v":2.8},{"s":"o","t":"2012-10-30","v":2.6},{"s":"o","t":"2012-10-31","v":1.6},
{"s":"o","t":"2012-11-01","v":2.6},{"s":"o","t":"2012-11-03","v":2.3},{"s":"o","t":"2012-11-04","v":3.0},{"s":"o","t":"2012-11-05","v":2.2},{"s":"o","t":"2012-11-06","v":2.0},{"s":"o","t":"2012-11-07","v":2.3},{"s":"o","t":"2012-11-08","v":0.0},{"s":"o","t":"2012-11-09","v":0.8},{"s":"o","t":"2012-11-10","v":1.7},{"s":"o","t":"2012-11-11","v":1.7},{"s":"o","t":"2012-11-13","v":1.6},{"s":"o","t":"2012-11-14","v":1.9},{"s":"o","t":"2012-11-15","v":1.8},{"s":"o","t":"2012-11-16","v":1.5},{"s":"o","t":"2012-11-17","v":1.5},{"s":"o","t":"2012-11-18","v":0.0},{"s":"o","t":"2012-11-20","v":0.0},{"s":"o","t":"2012-11-21","v":1.8},{"s":"o","t":"2012-11-22","v":1.9},{"s":"o","t":"2012-11-24","v":2.05},{"s":"o","t":"2012-11-25","v":2.0},{"s":"o","t":"2012-11-26","v":1.5},
{"s":"e","t":"2012-02-01","v":1.5},{"s":"e","t":"2012-02-02","v":1.0},{"s":"e","t":"2012-02-03","v":0.55},{"s":"e","t":"2012-02-04","v":1.5},{"s":"e","t":"2012-02-05","v":1.7},{"s":"e","t":"2012-02-06","v":1.9},{"s":"e","t":"2012-02-07","v":0.6},{"s":"e","t":"2012-02-08","v":1.9},{"s":"e","t":"2012-02-09","v":1.7},{"s":"e","t":"2012-02-10","v":1.9},{"s":"e","t":"2012-02-11","v":2.0},{"s":"e","t":"2012-02-12","v":2.1},{"s":"e","t":"2012-02-13","v":1.6},{"s":"e","t":"2012-02-14","v":2.3},{"s":"e","t":"2012-02-15","v":2.0},{"s":"e","t":"2012-02-16","v":1.5},{"s":"e","t":"2012-02-17","v":1.3},{"s":"e","t":"2012-02-18","v":1.1},{"s":"e","t":"2012-02-19","v":0.9},{"s":"e","t":"2012-02-20","v":1.3},{"s":"e","t":"2012-02-21","v":0.8},{"s":"e","t":"2012-02-22","v":1.6},{"s":"e","t":"2012-02-23","v":1.2},{"s":"e","t":"2012-02-24","v":1.9},{"s":"e","t":"2012-02-25","v":2.0},{"s":"e","t":"2012-02-26","v":0.6},{"s":"e","t":"2012-02-27","v":1.9},{"s":"e","t":"2012-02-28","v":2.1},{"s":"e","t":"2012-02-29","v":2.0},
{"s":"e","t":"2012-03-01","v":1.6},{"s":"e","t":"2012-03-02","v":2.0},{"s":"e","t":"2012-03-03","v":2.3},{"s":"e","t":"2012-03-04","v":2.4},{"s":"e","t":"2012-03-05","v":2.5},{"s":"e","t":"2012-03-06","v":2.8},{"s":"e","t":"2012-03-07","v":3.0},{"s":"e","t":"2012-03-08","v":3.2},{"s":"e","t":"2012-03-09","v":3.3},{"s":"e","t":"2012-03-10","v":3.2},{"s":"e","t":"2012-03-11","v":3.4},{"s":"e","t":"2012-03-12","v":3.3},{"s":"e","t":"2012-03-13","v":3.5},{"s":"e","t":"2012-03-14","v":3.4},{"s":"e","t":"2012-03-15","v":3.6},{"s":"e","t":"2012-03-16","v":3.7},{"s":"e","t":"2012-03-17","v":3.8},{"s":"e","t":"2012-03-18","v":4.0},{"s":"e","t":"2012-03-19","v":4.0},{"s":"e","t":"2012-03-20","v":3.9},{"s":"e","t":"2012-03-21","v":3.6},{"s":"e","t":"2012-03-22","v":3.8},{"s":"e","t":"2012-03-23","v":2.9},{"s":"e","t":"2012-03-24","v":3.6},{"s":"e","t":"2012-03-25","v":2.8},{"s":"e","t":"2012-03-26","v":2.0},{"s":"e","t":"2012-03-27","v":3.5},{"s":"e","t":"2012-03-28","v":3.8},{"s":"e","t":"2012-03-29","v":4.0},{"s":"e","t":"2012-03-30","v":4.4},{"s":"e","t":"2012-03-31","v":3.2},
{"s":"e","t":"2012-04-01","v":3.2},{"s":"e","t":"2012-04-02","v":3.6},{"s":"e","t":"2012-04-03","v":4.3},{"s":"e","t":"2012-04-04","v":4.25},{"s":"e","t":"2012-04-05","v":4.0},{"s":"e","t":"2012-04-06","v":3.9},{"s":"e","t":"2012-04-07","v":4.0},{"s":"e","t":"2012-04-08","v":4.2},{"s":"e","t":"2012-04-09","v":4.5},{"s":"e","t":"2012-04-10","v":4.7},{"s":"e","t":"2012-04-11","v":5.1},{"s":"e","t":"2012-04-12","v":5.3},{"s":"e","t":"2012-04-13","v":4.8},{"s":"e","t":"2012-04-14","v":4.5},{"s":"e","t":"2012-04-15","v":4.0},{"s":"e","t":"2012-04-16","v":3.8},{"s":"e","t":"2012-04-17","v":1.9},{"s":"e","t":"2012-04-18","v":3.0},{"s":"e","t":"2012-04-19","v":4.0},{"s":"e","t":"2012-04-20","v":4.5},{"s":"e","t":"2012-04-21","v":4.4},{"s":"e","t":"2012-04-22","v":4.7},{"s":"e","t":"2012-04-23","v":4.9},{"s":"e","t":"2012-04-24","v":5.2},{"s":"e","t":"2012-04-25","v":5.8},{"s":"e","t":"2012-04-26","v":6.4},{"s":"e","t":"2012-04-27","v":6.3},{"s":"e","t":"2012-04-28","v":6.1},{"s":"e","t":"2012-04-29","v":5.8},{"s":"e","t":"2012-04-30","v":6.2},
{"s":"e","t":"2012-05-01","v":6.3},{"s":"e","t":"2012-05-02","v":6.5},{"s":"e","t":"2012-05-03","v":6.8},{"s":"e","t":"2012-05-04","v":6.9},{"s":"e","t":"2012-05-05","v":6.5},{"s":"e","t":"2012-05-06","v":6.1},{"s":"e","t":"2012-05-07","v":6.0},{"s":"e","t":"2012-05-08","v":5.3},{"s":"e","t":"2012-05-09","v":5.6},{"s":"e","t":"2012-05-10","v":5.2},{"s":"e","t":"2012-05-11","v":5.3},{"s":"e","t":"2012-05-12","v":5.6},{"s":"e","t":"2012-05-13","v":5.5},{"s":"e","t":"2012-05-14","v":6.0},{"s":"e","t":"2012-05-15","v":5.4},{"s":"e","t":"2012-05-16","v":5.3},{"s":"e","t":"2012-05-17","v":5.6},{"s":"e","t":"2012-05-18","v":5.3},{"s":"e","t":"2012-05-19","v":5.3},{"s":"e","t":"2012-05-20","v":5.4},{"s":"e","t":"2012-05-21","v":5.5},{"s":"e","t":"2012-05-22","v":5.6},{"s":"e","t":"2012-05-23","v":5.5},{"s":"e","t":"2012-05-24","v":5.6},{"s":"e","t":"2012-05-25","v":5.7},{"s":"e","t":"2012-05-26","v":5.6},{"s":"e","t":"2012-05-27","v":5.7},{"s":"e","t":"2012-05-28","v":4.2},{"s":"e","t":"2012-05-29","v":5.0},{"s":"e","t":"2012-05-30","v":6.2},{"s":"e","t":"2012-05-31","v":6.8},
{"s":"e","t":"2012-06-01","v":6.7},{"s":"e","t":"2012-06-02","v":6.9},{"s":"e","t":"2012-06-03","v":7.0},{"s":"e","t":"2012-06-04","v":6.6},{"s":"e","t":"2012-06-05","v":6.2},{"s":"e","t":"2012-06-06","v":6.7},{"s":"e","t":"2012-06-07","v":6.5},{"s":"e","t":"2012-06-08","v":6.0},{"s":"e","t":"2012-06-09","v":5.6},{"s":"e","t":"2012-06-10","v":5.9},{"s":"e","t":"2012-06-11","v":6.4},{"s":"e","t":"2012-06-12","v":6.3},{"s":"e","t":"2012-06-13","v":6.5},{"s":"e","t":"2012-06-14","v":5.4},{"s":"e","t":"2012-06-15","v":6.8},{"s":"e","t":"2012-06-16","v":7.2},{"s":"e","t":"2012-06-17","v":6.5},{"s":"e","t":"2012-06-18","v":5.8},{"s":"e","t":"2012-06-19","v":5.9},{"s":"e","t":"2012-06-20","v":6.2},{"s":"e","t":"2012-06-21","v":6.3},{"s":"e","t":"2012-06-22","v":6.2},{"s":"e","t":"2012-06-23","v":6.4},{"s":"e","t":"2012-06-24","v":6.5},{"s":"e","t":"2012-06-25","v":6.6},{"s":"e","t":"2012-06-26","v":6.9},{"s":"e","t":"2012-06-27","v":6.7},{"s":"e","t":"2012-06-28","v":6.5},{"s":"e","t":"2012-06-29","v":6.0},{"s":"e","t":"2012-06-30","v":5.6},
{"s":"e","t":"2012-07-01","v":5.3},{"s":"e","t":"2012-07-02","v":5.1},{"s":"e","t":"2012-07-03","v":6.2},{"s":"e","t":"2012-07-04","v":6.5},{"s":"e","t":"2012-07-05","v":6.8},{"s":"e","t":"2012-07-06","v":6.9},{"s":"e","t":"2012-07-07","v":6.7},{"s":"e","t":"2012-07-08","v":6.3},{"s":"e","t":"2012-07-09","v":6.3},{"s":"e","t":"2012-07-10","v":6.4},{"s":"e","t":"2012-07-11","v":6.85},{"s":"e","t":"2012-07-12","v":6.6},{"s":"e","t":"2012-07-13","v":6.4},{"s":"e","t":"2012-07-14","v":6.2},{"s":"e","t":"2012-07-15","v":6.0},{"s":"e","t":"2012-07-16","v":6.3},{"s":"e","t":"2012-07-17","v":6.4},{"s":"e","t":"2012-07-18","v":6.2},{"s":"e","t":"2012-07-19","v":6.1},{"s":"e","t":"2012-07-20","v":6.5},{"s":"e","t":"2012-07-21","v":6.7},{"s":"e","t":"2012-07-22","v":6.75},{"s":"e","t":"2012-07-24","v":6.8},{"s":"e","t":"2012-07-25","v":6.7},{"s":"e","t":"2012-07-26","v":6.95},{"s":"e","t":"2012-07-27","v":6.8},{"s":"e","t":"2012-07-28","v":6.6},{"s":"e","t":"2012-07-29","v":6.1},{"s":"e","t":"2012-07-30","v":6.0},{"s":"e","t":"2012-07-31","v":5.8},
{"s":"e","t":"2012-08-01","v":5.7},{"s":"e","t":"2012-08-02","v":5.6},{"s":"e","t":"2012-08-03","v":5.9},{"s":"e","t":"2012-08-04","v":6.1},{"s":"e","t":"2012-08-05","v":5.8},{"s":"e","t":"2012-08-06","v":5.9},{"s":"e","t":"2012-08-07","v":6.0},{"s":"e","t":"2012-08-08","v":6.2},{"s":"e","t":"2012-08-09","v":6.0},{"s":"e","t":"2012-08-10","v":6.3},{"s":"e","t":"2012-08-11","v":6.5},{"s":"e","t":"2012-08-12","v":6.0},{"s":"e","t":"2012-08-13","v":6.0},{"s":"e","t":"2012-08-14","v":5.9},{"s":"e","t":"2012-08-15","v":5.8},{"s":"e","t":"2012-08-16","v":6.0},{"s":"e","t":"2012-08-17","v":5.8},{"s":"e","t":"2012-08-18","v":5.8},{"s":"e","t":"2012-08-19","v":5.9},{"s":"e","t":"2012-08-20","v":5.9},{"s":"e","t":"2012-08-21","v":5.1},{"s":"e","t":"2012-08-22","v":4.7},{"s":"e","t":"2012-08-23","v":4.7},{"s":"e","t":"2012-08-24","v":4.8},{"s":"e","t":"2012-08-25","v":5.2},{"s":"e","t":"2012-08-26","v":5.4},{"s":"e","t":"2012-08-27","v":5.5},{"s":"e","t":"2012-08-28","v":5.5},{"s":"e","t":"2012-08-29","v":5.6},{"s":"e","t":"2012-08-30","v":5.5},{"s":"e","t":"2012-08-31","v":5.4},
{"s":"e","t":"2012-09-01","v":5.4},{"s":"e","t":"2012-09-02","v":5.5},{"s":"e","t":"2012-09-03","v":5.3},{"s":"e","t":"2012-09-04","v":5.1},{"s":"e","t":"2012-09-05","v":5.5},{"s":"e","t":"2012-09-06","v":5.6},{"s":"e","t":"2012-09-07","v":5.7},{"s":"e","t":"2012-09-08","v":5.5},{"s":"e","t":"2012-09-09","v":5.3},{"s":"e","t":"2012-09-10","v":5.3},{"s":"e","t":"2012-09-11","v":5.2},{"s":"e","t":"2012-09-12","v":5.2},{"s":"e","t":"2012-09-13","v":4.9},{"s":"e","t":"2012-09-14","v":4.6},{"s":"e","t":"2012-09-15","v":4.6},{"s":"e","t":"2012-09-16","v":4.8},{"s":"e","t":"2012-09-17","v":4.1},{"s":"e","t":"2012-09-18","v":3.8},{"s":"e","t":"2012-09-19","v":3.9},{"s":"e","t":"2012-09-20","v":4.0},{"s":"e","t":"2012-09-22","v":3.8},{"s":"e","t":"2012-09-23","v":3.9},{"s":"e","t":"2012-09-24","v":4.3},{"s":"e","t":"2012-09-25","v":4.4},{"s":"e","t":"2012-09-26","v":4.5},{"s":"e","t":"2012-09-27","v":4.5},{"s":"e","t":"2012-09-28","v":4.4},{"s":"e","t":"2012-09-29","v":4.4},{"s":"e","t":"2012-09-30","v":3.8},
{"s":"e","t":"2012-10-01","v":3.5},{"s":"e","t":"2012-10-02","v":3.6},{"s":"e","t":"2012-10-03","v":3.5},{"s":"e","t":"2012-10-04","v":3.6},{"s":"e","t":"2012-10-06","v":3.2},{"s":"e","t":"2012-10-07","v":3.1},{"s":"e","t":"2012-10-08","v":3.3},{"s":"e","t":"2012-10-09","v":3.1},{"s":"e","t":"2012-10-10","v":3.0},{"s":"e","t":"2012-10-11","v":3.1},{"s":"e","t":"2012-10-12","v":3.3},{"s":"e","t":"2012-10-13","v":3.5},{"s":"e","t":"2012-10-15","v":3.5},{"s":"e","t":"2012-10-16","v":3.4},{"s":"e","t":"2012-10-17","v":2.0},{"s":"e","t":"2012-10-18","v":1.7},{"s":"e","t":"2012-10-19","v":0.8},{"s":"e","t":"2012-10-20","v":1.2},{"s":"e","t":"2012-10-21","v":1.7},{"s":"e","t":"2012-10-22","v":2.0},{"s":"e","t":"2012-10-23","v":1.9},{"s":"e","t":"2012-10-25","v":1.6},{"s":"e","t":"2012-10-26","v":0.5},{"s":"e","t":"2012-10-27","v":0.8},{"s":"e","t":"2012-10-28","v":1.9},{"s":"e","t":"2012-10-30","v":1.9},{"s":"e","t":"2012-10-31","v":1.6},
{"s":"e","t":"2012-11-01","v":1.8},{"s":"e","t":"2012-11-03","v":2.0},{"s":"e","t":"2012-11-04","v":1.7},{"s":"e","t":"2012-11-05","v":1.9},{"s":"e","t":"2012-11-06","v":1.8},{"s":"e","t":"2012-11-07","v":1.6},{"s":"e","t":"2012-11-08","v":0.2},{"s":"e","t":"2012-11-09","v":0.7},{"s":"e","t":"2012-11-10","v":1.5},{"s":"e","t":"2012-11-11","v":1.7},{"s":"e","t":"2012-11-12","v":1.6},{"s":"e","t":"2012-11-13","v":1.5},{"s":"e","t":"2012-11-14","v":1.6},{"s":"e","t":"2012-11-15","v":1.5},{"s":"e","t":"2012-11-16","v":1.6},{"s":"e","t":"2012-11-17","v":1.2},{"s":"e","t":"2012-11-18","v":0.5},{"s":"e","t":"2012-11-19","v":0.2},{"s":"e","t":"2012-11-21","v":0.6},{"s":"e","t":"2012-11-22","v":1.3},{"s":"e","t":"2012-11-23","v":1.5},{"s":"e","t":"2012-11-24","v":1.5},{"s":"e","t":"2012-11-26","v":1.45}
],
"bp":[
{"p":"est","t":"2012-04-01","v":30},{"p":"est","t":"2012-05-01","v":151},{"p":"est","t":"2012-06-01","v":151},{"p":"est","t":"2012-07-01","v":212},{"p":"est","t":"2012-08-01","v":184},{"p":"est","t":"2012-09-01","v":184},{"p":"est","t":"2012-10-01","v":151},{"p":"est","t":"2012-11-01","v":61},
{"p":"obs","t":"2012-04-01","v":30},{"p":"obs","t":"2012-05-01","v":62},{"p":"obs","t":"2012-06-01","v":139},{"p":"obs","t":"2012-07-01","v":156},{"p":"obs","t":"2012-08-01","v":186},{"p":"obs","t":"2012-09-01","v":186},{"p":"obs","t":"2012-10-01","v":109},{"p":"obs","t":"2012-11-01","v":31}
]
},
"vconcat":[
{
"width":785,"height":213,
"title":{"text":"(a)","orient":"bottom","anchor":"start","frame":"group","fontSize":30,"fontWeight":"normal","font":"Liberation Sans","color":"#000000","dx":-66,"offset":-32,"baseline":"top"},
"layer":[
{"data":{"name":"a"},"mark":{"type":"line","color":"#000000","strokeCap":"butt"},
"encoding":{
"x":{"field":"t","type":"temporal","scale":{"type":"utc","domain":[{"year":2011,"month":3,"date":1,"utc":true},{"year":2011,"month":12,"date":30,"utc":true}]},"axis":{"title":null,"format":"%b","tickCount":"month","grid":false,"tickSize":5,"labelPadding":4,"labelAlign":"left","labelOffset":-1,"labelFlush":false,"labelOverlap":false,"labelBound":false}},
"y":{"field":"v","type":"quantitative","scale":{"domain":[0,8]},"axis":{"title":"ETc  (mm d⁻¹)","values":[0,2,4,6,8],"tickSize":4,"labelPadding":4,"titlePadding":18}},
"strokeDash":{"field":"s","type":"nominal","scale":{"domain":["e","o"],"range":[[5,2],[1,0]]},"legend":{"orient":"none","legendX":139,"legendY":-35.7,"direction":"horizontal","title":null,"symbolType":"stroke","symbolSize":900,"symbolStrokeColor":"#000000","labelFontSize":14,"labelFontWeight":"bold","labelColor":"#000000","labelOffset":2,"columnPadding":44,"labelExpr":"datum.label == 'e' ? 'est ETc' : 'obs ETc'"}},
"strokeWidth":{"field":"s","type":"nominal","scale":{"domain":["e","o"],"range":[2.8,1]},"legend":{"orient":"none","legendX":139,"legendY":-35.7,"direction":"horizontal","title":null,"symbolType":"stroke","symbolSize":900,"symbolStrokeColor":"#000000","labelFontSize":14,"labelFontWeight":"bold","labelColor":"#000000","labelOffset":2,"columnPadding":44,"labelExpr":"datum.label == 'e' ? 'est ETc' : 'obs ETc'"}}
}},
{"data":{"name":"ap"},"mark":{"type":"point","filled":false,"color":"#000000","size":100,"strokeWidth":1.2},
"encoding":{
"x":{"field":"t","type":"temporal"},
"y":{"field":"v","type":"quantitative","scale":{"domain":[0,400]},"axis":{"orient":"right","title":"ΣNAc (mm month⁻¹)","values":[0,100,200,300,400],"grid":false,"tickSize":4,"labelPadding":6,"titlePadding":38,"titleAngle":270}},
"shape":{"field":"p","type":"nominal","scale":{"domain":["est","obs"],"range":["triangle-up","square"]},"legend":{"orient":"none","legendX":414,"legendY":-25.7,"direction":"horizontal","title":null,"symbolSize":50,"symbolStrokeColor":"#000000","symbolFillColor":"transparent","symbolStrokeWidth":1,"labelFontSize":14,"labelFontWeight":"bold","labelColor":"#000000","labelOffset":14,"columnPadding":40,"labelExpr":"datum.label == 'est' ? 'est  ΣNAc' : 'obs ΣNAc'"}}
}}
],
"resolve":{"scale":{"y":"independent"}}
},
{
"width":785,"height":213,
"title":{"text":"(b)","orient":"bottom","anchor":"start","frame":"group","fontSize":30,"fontWeight":"normal","font":"Liberation Sans","color":"#000000","dx":-66,"offset":-32,"baseline":"top"},
"layer":[
{"data":{"name":"b"},"mark":{"type":"line","color":"#000000","strokeCap":"butt"},
"encoding":{
"x":{"field":"t","type":"temporal","scale":{"type":"utc","domain":[{"year":2012,"month":2,"date":1,"utc":true},{"year":2012,"month":11,"date":26,"utc":true}]},"axis":{"title":null,"format":"%b","tickCount":"month","grid":false,"tickSize":5,"labelPadding":4,"labelAlign":"left","labelOffset":-1,"labelFlush":false,"labelOverlap":false,"labelBound":false}},
"y":{"field":"v","type":"quantitative","scale":{"domain":[0,8]},"axis":{"title":"ETc  (mm d⁻¹)","values":[0,2,4,6,8],"tickSize":4,"labelPadding":4,"titlePadding":18}},
"strokeDash":{"field":"s","type":"nominal","scale":{"domain":["e","o"],"range":[[5,2],[1,0]]}},
"strokeWidth":{"field":"s","type":"nominal","scale":{"domain":["e","o"],"range":[2.8,1]}}
}},
{"data":{"name":"bp"},"mark":{"type":"point","filled":false,"color":"#000000","size":100,"strokeWidth":1.2},
"encoding":{
"x":{"field":"t","type":"temporal"},
"y":{"field":"v","type":"quantitative","scale":{"domain":[0,400]},"axis":{"orient":"right","title":"ΣNAc (mm month⁻¹)","values":[0,100,200,300,400],"grid":false,"tickSize":4,"labelPadding":6,"titlePadding":38,"titleAngle":270}},
"shape":{"field":"p","type":"nominal","scale":{"domain":["est","obs"],"range":["triangle-up","square"]}}
}}
],
"resolve":{"scale":{"y":"independent"}}
}
],
"spacing":78,
"bounds":"flush",
"resolve":{"scale":{"x":"independent","y":"independent","strokeDash":"shared","strokeWidth":"shared","shape":"shared"}}
}
